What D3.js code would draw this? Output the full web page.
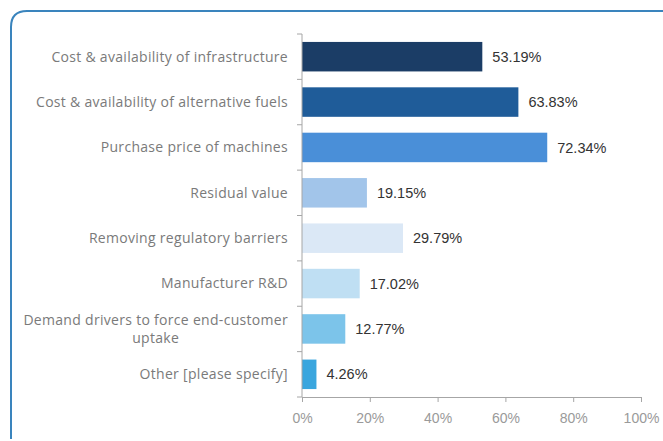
<!DOCTYPE html>
<html>
<head>
<meta charset="utf-8">
<script src="https://cdn.jsdelivr.net/npm/d3@7"></script>
<style>
  body { margin: 0; background: #fff; }
  svg { display: block; }
</style>
</head>
<body>
<div id="chart"></div>
<script>
var categories = [
  ["Cost & availability of infrastructure"],
  ["Cost & availability of alternative fuels"],
  ["Purchase price of machines"],
  ["Residual value"],
  ["Removing regulatory barriers"],
  ["Manufacturer R&D"],
  ["Demand drivers to force end-customer", "uptake"],
  ["Other [please specify]"]
];
var values = [53.19, 63.83, 72.34, 19.15, 29.79, 17.02, 12.77, 4.26];
var barColors = ["#1b3d66", "#1f5c99", "#4a8fd8", "#a2c5ea", "#dbe8f6", "#bfdff3", "#7cc4ea", "#3aa6de"];
var xTicks = [0, 20, 40, 60, 80, 100];

var width = 663, height = 441;
var margin = { left: 302, right: 22, top: 34, bottom: 44 };

var svg = d3.select('#chart').append('svg')
  .attr('width', width)
  .attr('height', height);

// frame (only top-left corner visible)
var r = 16;
svg.append('path')
  .attr('d', 'M' + width + ',11 L' + (11 + r) + ',11 Q11,11 11,' + (11 + r) + ' L11,' + (height - 2))
  .attr('fill', 'none')
  .attr('stroke', '#3a84bd')
  .attr('stroke-width', 2);

var x = d3.scaleLinear().domain([0, 100]).range([margin.left, width - margin.right]);
var y = d3.scaleBand()
  .domain(d3.range(categories.length))
  .range([margin.top, height - margin.bottom])
  .paddingInner(0.35)
  .paddingOuter(0.175);

// bars
svg.selectAll('rect.bar')
  .data(values)
  .enter()
  .append('rect')
  .classed('bar', true)
  .attr('x', x(0))
  .attr('y', function (d, i) { return y(i); })
  .attr('width', function (d) { return x(d) - x(0); })
  .attr('height', y.bandwidth())
  .attr('fill', function (d, i) { return barColors[i]; });

// value labels
svg.selectAll('text.val')
  .data(values)
  .enter()
  .append('text')
  .classed('val', true)
  .attr('x', function (d) { return x(d) + 10; })
  .attr('y', function (d, i) { return y(i) + y.bandwidth() / 2; })
  .attr('dy', '0.35em')
  .style('font-family', '"Liberation Sans", Arial, sans-serif')
  .style('font-size', '14.5px')
  .style('fill', '#333')
  .text(function (d) { return d.toFixed(2) + '%'; });

// y axis line + ticks at band boundaries
var axisColor = '#a6a6a6';
var step = y.step();
svg.append('line')
  .attr('x1', x(0)).attr('x2', x(0))
  .attr('y1', margin.top).attr('y2', height - margin.bottom)
  .style('stroke', axisColor).style('stroke-width', 1);
svg.selectAll('line.ytick')
  .data(d3.range(categories.length + 1))
  .enter()
  .append('line')
  .classed('ytick', true)
  .attr('x1', x(0) - 5).attr('x2', x(0))
  .attr('y1', function (i) { return margin.top + i * step; })
  .attr('y2', function (i) { return margin.top + i * step; })
  .style('stroke', axisColor).style('stroke-width', 1);

// x axis
var xAxis = svg.append('g')
  .attr('transform', 'translate(0,' + (height - margin.bottom) + ')')
  .call(d3.axisBottom(x).tickValues(xTicks).tickSize(5).tickFormat(function (d) { return d + '%'; }));
xAxis.select('.domain').attr('stroke', axisColor);
xAxis.selectAll('.tick line').attr('stroke', axisColor);
xAxis.selectAll('.tick text')
  .attr('dy', '1.25em')
  .style('font-family', '"Liberation Sans", Arial, sans-serif')
  .style('font-size', '14px')
  .style('fill', '#9a9a9a');

// category labels
var labelRight = x(0) - 14;
categories.forEach(function (lines, i) {
  var cy = y(i) + y.bandwidth() / 2;
  var lineH = 18;
  var g = svg.append('g');
  var texts = lines.map(function (s, k) {
    return g.append('text')
      .attr('y', cy + (k - (lines.length - 1) / 2) * lineH)
      .attr('dy', '0.35em')
      .style('font-family', '"Open Sans", sans-serif')
      .style('font-size', '14px')
      .style('letter-spacing', '0.3px')
      .style('fill', '#7a7a7a')
      .text(s);
  });
  if (lines.length === 1) {
    texts[0].attr('x', labelRight).attr('text-anchor', 'end');
  } else {
    var w = d3.max(texts, function (t) { return t.node().getComputedTextLength(); });
    texts.forEach(function (t) {
      t.attr('x', labelRight - w / 2).attr('text-anchor', 'middle');
    });
  }
});
</script>
</body>
</html>
